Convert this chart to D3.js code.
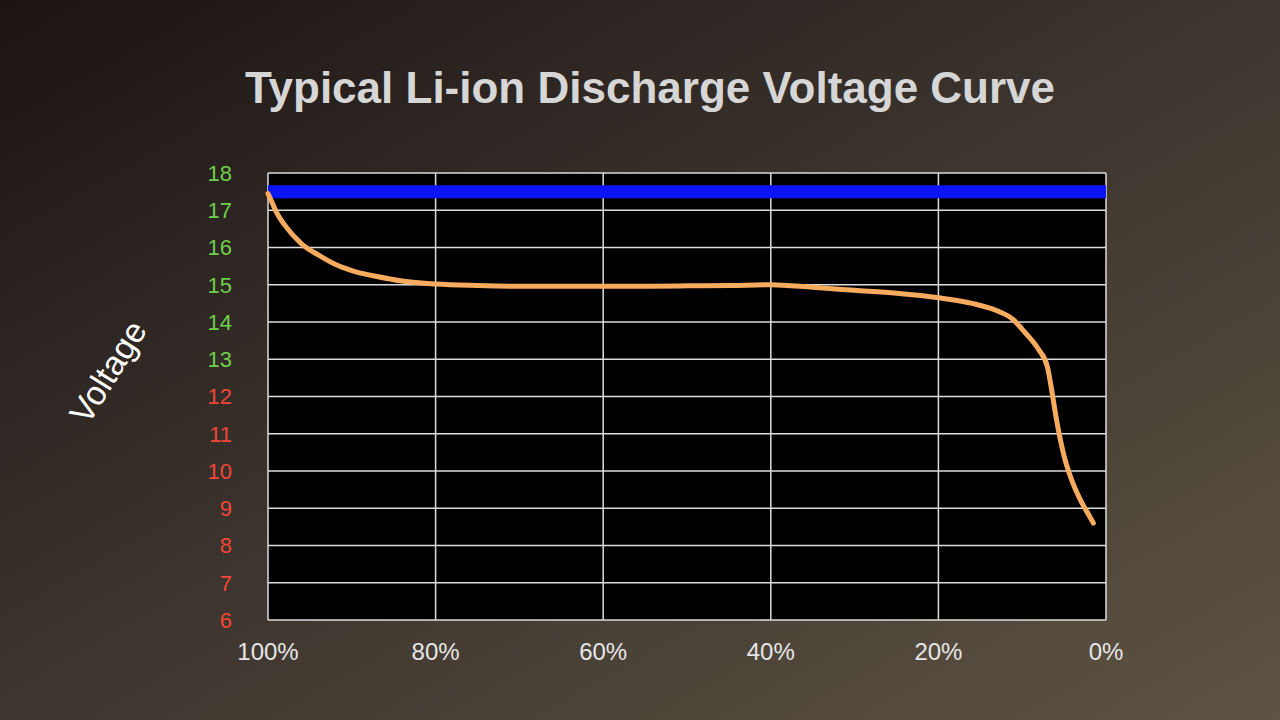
<!DOCTYPE html>
<html>
<head>
<meta charset="utf-8">
<script src="https://cdn.jsdelivr.net/npm/d3@7"></script>
<style>
  body { margin: 0; }
  svg { display: block; }
</style>
</head>
<body>
<svg id="chart" width="1280" height="720"></svg>
<script>
// Discharge curve: percent of charge remaining vs voltage
const percent = [100, 99.5, 99, 98, 96, 94, 92, 90, 87, 84, 80, 75, 70, 65, 60, 55, 50, 45, 40, 35, 30, 25, 20, 16, 13, 11, 10, 9, 8, 7, 6.5, 6, 5.5, 5, 4, 3, 2, 1.5];
const voltage = [17.45, 17.2, 16.95, 16.6, 16.1, 15.8, 15.55, 15.38, 15.22, 15.1, 15.02, 14.98, 14.96, 14.96, 14.96, 14.96, 14.97, 14.98, 15.0, 14.93, 14.85, 14.77, 14.65, 14.5, 14.3, 14.05, 13.8, 13.55, 13.25, 12.8, 12.2, 11.5, 10.9, 10.4, 9.7, 9.2, 8.8, 8.6];
const limitVoltage = 17.5;
const yTicks = [6, 7, 8, 9, 10, 11, 12, 13, 14, 15, 16, 17, 18];
const xTicks = [100, 80, 60, 40, 20, 0];

const svg = d3.select("#chart");
const defs = svg.append("defs");
const grad = defs.append("linearGradient").attr("id", "bg")
  .attr("x1", "0%").attr("y1", "0%").attr("x2", "100%").attr("y2", "100%");
grad.append("stop").attr("offset", "0%").attr("stop-color", "#1c1412");
grad.append("stop").attr("offset", "45%").attr("stop-color", "#3a322c");
grad.append("stop").attr("offset", "100%").attr("stop-color", "#5e5444");
svg.append("rect").attr("width", 1280).attr("height", 720).attr("fill", "url(#bg)");

const plotL = 268, plotR = 1106, plotT = 173, plotB = 620;
const x = d3.scaleLinear().domain([100, 0]).range([plotL, plotR]);
const y = d3.scaleLinear().domain([6, 18]).range([plotB, plotT]);

svg.append("rect").attr("x", plotL).attr("y", plotT)
  .attr("width", plotR - plotL).attr("height", plotB - plotT).attr("fill", "#000");

const grid = svg.append("g").attr("stroke", "#ddd").attr("stroke-width", 1.5);
grid.selectAll(".h").data(yTicks).join("line")
  .attr("x1", plotL).attr("x2", plotR).attr("y1", d => y(d)).attr("y2", d => y(d));
grid.selectAll(".v").data(xTicks).join("line")
  .attr("y1", plotT).attr("y2", plotB).attr("x1", d => x(d)).attr("x2", d => x(d));

svg.append("line")
  .attr("x1", plotL).attr("x2", plotR)
  .attr("y1", y(limitVoltage)).attr("y2", y(limitVoltage))
  .attr("stroke", "#0a14f5").attr("stroke-width", 13);

const pts = percent.map((p, i) => [p, voltage[i]]);
svg.append("path").datum(pts)
  .attr("fill", "none").attr("stroke", "#f7ab5e").attr("stroke-width", 5)
  .attr("stroke-linecap", "round")
  .attr("d", d3.line().x(d => x(d[0])).y(d => y(d[1])).curve(d3.curveMonotoneX));

svg.append("g").selectAll("text").data(yTicks).join("text")
  .attr("x", 232).attr("y", d => y(d)).attr("dy", "0.36em")
  .attr("text-anchor", "end")
  .attr("font-family", "Helvetica, Arial, 'Liberation Sans', sans-serif")
  .attr("font-size", 22)
  .attr("fill", d => d >= 13 ? "#6fcf4a" : "#f0473a")
  .text(d => d);

svg.append("g").selectAll("text").data(xTicks).join("text")
  .attr("x", d => x(d)).attr("y", 660)
  .attr("text-anchor", "middle")
  .attr("font-family", "Helvetica, Arial, 'Liberation Sans', sans-serif")
  .attr("font-size", 24).attr("fill", "#e6e6e6")
  .text(d => d + "%");

svg.append("text")
  .attr("transform", "translate(118,378) rotate(-58)")
  .attr("text-anchor", "middle")
  .attr("font-family", "Helvetica, Arial, 'Liberation Sans', sans-serif")
  .attr("font-size", 34).attr("fill", "#fff")
  .text("Voltage");

svg.append("text")
  .attr("x", 650).attr("y", 103).attr("text-anchor", "middle")
  .attr("font-family", "Helvetica, Arial, 'Liberation Sans', sans-serif")
  .attr("font-weight", "bold")
  .attr("font-size", 44).attr("fill", "#d6d6d6")
  .text("Typical Li-ion Discharge Voltage Curve");
</script>
</body>
</html>
